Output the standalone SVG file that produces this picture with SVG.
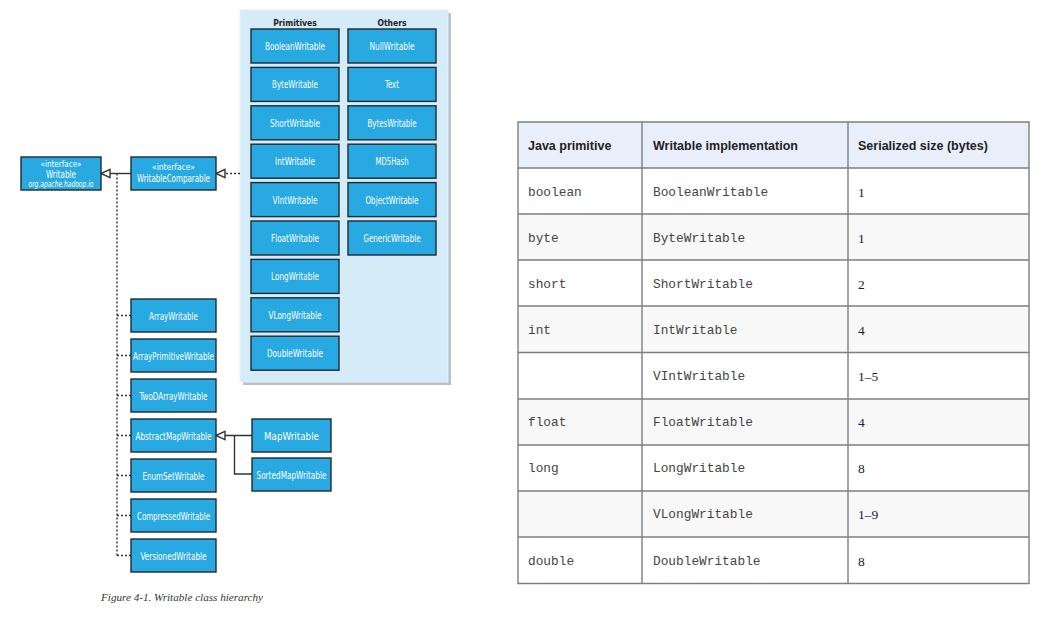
<svg xmlns="http://www.w3.org/2000/svg" width="1051" height="618" viewBox="0 0 1051 618">
<style>
.box{fill:#29a9e1;stroke:#1e2a33;stroke-width:1.4}
.bt{font-family:"DejaVu Sans Condensed","Liberation Sans Narrow","Liberation Sans",Arial,sans-serif;font-size:10.5px;fill:#fff;text-anchor:middle}
.sm{font-size:8px}
.it{font-style:italic;font-size:8px}
.hd{font-family:"DejaVu Sans Condensed","Liberation Sans",Arial,sans-serif;font-size:8.5px;font-weight:bold;fill:#222;text-anchor:middle}
.solid{fill:none;stroke:#333;stroke-width:1.4}
.dot{fill:none;stroke:#333;stroke-width:1.4;stroke-dasharray:2 2}
.th{font-family:"Liberation Sans",Arial,sans-serif;font-size:12.5px;font-weight:bold;fill:#222}
.td{font-family:"Liberation Mono","DejaVu Sans Mono",monospace;font-size:12.8px;fill:#444}
.tn{font-family:"Liberation Serif","DejaVu Serif",serif;font-size:13.5px;fill:#1a1a3a}
.grid{stroke:#7f7f7f;stroke-width:1.4;fill:none}
.cap{font-family:"Liberation Serif","DejaVu Serif",serif;font-style:italic;font-size:11px;fill:#333}
</style>
<defs>
<marker id="tri" markerUnits="userSpaceOnUse" markerWidth="12" markerHeight="12" refX="10" refY="5" orient="auto" viewBox="0 0 12 10">
<path d="M1,0.8 L10,5 L1,9.2 Z" fill="#fff" stroke="#333" stroke-width="1.4"/>
</marker>
</defs>
<rect width="1051" height="618" fill="#fff"/>

<g id="panel">
<rect x="243" y="13" width="208" height="372" fill="#b9bfc4"/>
<rect x="240" y="10" width="208" height="372" fill="#d5ebf8" stroke="#e4f2fb" stroke-width="1"/>
<text class="hd" x="295" y="26">Primitives</text>
<text class="hd" x="392" y="26">Others</text>
</g>

<g id="connectors">
<line class="solid" x1="131" y1="173.5" x2="101" y2="173.5" marker-end="url(#tri)"/>
<line class="dot" x1="240" y1="173.5" x2="216" y2="173.5" marker-end="url(#tri)"/>
<path class="dot" d="M117,173.5 V555.5"/>
<path class="dot" d="M117,315.5 H131 M117,355.5 H131 M117,395.5 H131 M117,435.5 H131 M117,475.5 H131 M117,515.5 H131 M117,555.5 H131"/>
<line class="solid" x1="252" y1="435.5" x2="216" y2="435.5" marker-end="url(#tri)"/>
<path class="solid" d="M234.5,435.5 V474 H252"/>
</g>

<g id="Writable">
<rect class="box" x="21" y="157" width="80" height="33"/>
<text class="bt sm" x="61" y="167" textLength="41" lengthAdjust="spacingAndGlyphs">«interface»</text>
<text class="bt" x="61" y="177.5" textLength="30" lengthAdjust="spacingAndGlyphs">Writable</text>
<text class="bt it" x="61" y="186.5" textLength="65" lengthAdjust="spacingAndGlyphs">org.apache.hadoop.io</text>
</g>
<g id="WritableComparable">
<rect class="box" x="131" y="157" width="85" height="33"/>
<text class="bt sm" x="173.5" y="170" textLength="43" lengthAdjust="spacingAndGlyphs">«interface»</text>
<text class="bt" x="173.5" y="181.5" textLength="73" lengthAdjust="spacingAndGlyphs">WritableComparable</text>
</g>

<g id="BooleanWritable"><rect class="box" x="251" y="29" width="88" height="34"/><text class="bt" x="295" y="50" textLength="60" lengthAdjust="spacingAndGlyphs">BooleanWritable</text></g>
<g id="ByteWritable"><rect class="box" x="251" y="67.4" width="88" height="34"/><text class="bt" x="295" y="88.4" textLength="46" lengthAdjust="spacingAndGlyphs">ByteWritable</text></g>
<g id="ShortWritable"><rect class="box" x="251" y="105.8" width="88" height="34"/><text class="bt" x="295" y="126.8" textLength="50" lengthAdjust="spacingAndGlyphs">ShortWritable</text></g>
<g id="IntWritable"><rect class="box" x="251" y="144.2" width="88" height="34"/><text class="bt" x="295" y="165.2" textLength="40" lengthAdjust="spacingAndGlyphs">IntWritable</text></g>
<g id="VIntWritable"><rect class="box" x="251" y="182.6" width="88" height="34"/><text class="bt" x="295" y="203.6" textLength="45" lengthAdjust="spacingAndGlyphs">VIntWritable</text></g>
<g id="FloatWritable"><rect class="box" x="251" y="221" width="88" height="34"/><text class="bt" x="295" y="242" textLength="48" lengthAdjust="spacingAndGlyphs">FloatWritable</text></g>
<g id="LongWritable"><rect class="box" x="251" y="259.4" width="88" height="34"/><text class="bt" x="295" y="280.4" textLength="48" lengthAdjust="spacingAndGlyphs">LongWritable</text></g>
<g id="VLongWritable"><rect class="box" x="251" y="297.8" width="88" height="34"/><text class="bt" x="295" y="318.8" textLength="53" lengthAdjust="spacingAndGlyphs">VLongWritable</text></g>
<g id="DoubleWritable"><rect class="box" x="251" y="336.2" width="88" height="34"/><text class="bt" x="295" y="357.2" textLength="56" lengthAdjust="spacingAndGlyphs">DoubleWritable</text></g>

<g id="NullWritable"><rect class="box" x="348" y="29" width="88" height="34"/><text class="bt" x="392" y="50" textLength="45" lengthAdjust="spacingAndGlyphs">NullWritable</text></g>
<g id="Text"><rect class="box" x="348" y="67.4" width="88" height="34"/><text class="bt" x="392" y="88.4" textLength="14" lengthAdjust="spacingAndGlyphs">Text</text></g>
<g id="BytesWritable"><rect class="box" x="348" y="105.8" width="88" height="34"/><text class="bt" x="392" y="126.8" textLength="49" lengthAdjust="spacingAndGlyphs">BytesWritable</text></g>
<g id="MD5Hash"><rect class="box" x="348" y="144.2" width="88" height="34"/><text class="bt" x="392" y="165.2" textLength="33" lengthAdjust="spacingAndGlyphs">MD5Hash</text></g>
<g id="ObjectWritable"><rect class="box" x="348" y="182.6" width="88" height="34"/><text class="bt" x="392" y="203.6" textLength="53" lengthAdjust="spacingAndGlyphs">ObjectWritable</text></g>
<g id="GenericWritable"><rect class="box" x="348" y="221" width="88" height="34"/><text class="bt" x="392" y="242" textLength="57" lengthAdjust="spacingAndGlyphs">GenericWritable</text></g>

<g id="ArrayWritable"><rect class="box" x="131" y="299" width="85" height="33"/><text class="bt" x="173.5" y="319.5" textLength="49" lengthAdjust="spacingAndGlyphs">ArrayWritable</text></g>
<g id="ArrayPrimitiveWritable"><rect class="box" x="131" y="339" width="85" height="33"/><text class="bt" x="173.5" y="359.5" textLength="81" lengthAdjust="spacingAndGlyphs">ArrayPrimitiveWritable</text></g>
<g id="TwoDArrayWritable"><rect class="box" x="131" y="379" width="85" height="33"/><text class="bt" x="173.5" y="399.5" textLength="68" lengthAdjust="spacingAndGlyphs">TwoDArrayWritable</text></g>
<g id="AbstractMapWritable"><rect class="box" x="131" y="419" width="85" height="33"/><text class="bt" x="173.5" y="439.5" textLength="76" lengthAdjust="spacingAndGlyphs">AbstractMapWritable</text></g>
<g id="EnumSetWritable"><rect class="box" x="131" y="459" width="85" height="33"/><text class="bt" x="173.5" y="479.5" textLength="62" lengthAdjust="spacingAndGlyphs">EnumSetWritable</text></g>
<g id="CompressedWritable"><rect class="box" x="131" y="499" width="85" height="33"/><text class="bt" x="173.5" y="519.5" textLength="73" lengthAdjust="spacingAndGlyphs">CompressedWritable</text></g>
<g id="VersionedWritable"><rect class="box" x="131" y="539" width="85" height="33"/><text class="bt" x="173.5" y="559.5" textLength="66" lengthAdjust="spacingAndGlyphs">VersionedWritable</text></g>

<g id="MapWritable"><rect class="box" x="252" y="419" width="79" height="33"/><text class="bt" x="291.5" y="439.5" textLength="55" lengthAdjust="spacingAndGlyphs">MapWritable</text></g>
<g id="SortedMapWritable"><rect class="box" x="252" y="458" width="79" height="33"/><text class="bt" x="291.5" y="478.5" textLength="70" lengthAdjust="spacingAndGlyphs">SortedMapWritable</text></g>

<text id="caption" class="cap" x="101" y="601" textLength="162" lengthAdjust="spacingAndGlyphs">Figure 4-1. Writable class hierarchy</text>

<g id="table">
<rect x="518" y="122" width="511" height="46" fill="#e9eefb"/>
<rect x="518" y="168" width="511" height="46" fill="#ffffff"/>
<rect x="518" y="214" width="511" height="46" fill="#f8f8f8"/>
<rect x="518" y="260" width="511" height="46" fill="#ffffff"/>
<rect x="518" y="306" width="511" height="46.5" fill="#f8f8f8"/>
<rect x="518" y="352.5" width="511" height="46.5" fill="#ffffff"/>
<rect x="518" y="399" width="511" height="46" fill="#f8f8f8"/>
<rect x="518" y="445" width="511" height="46" fill="#ffffff"/>
<rect x="518" y="491" width="511" height="46" fill="#f8f8f8"/>
<rect x="518" y="537" width="511" height="46.5" fill="#ffffff"/>
<path class="grid" d="M518,122 H1029 V583.5 H518 Z M642,122 V583.5 M848,122 V583.5 M518,168 H1029 M518,214 H1029 M518,260 H1029 M518,306 H1029 M518,352.5 H1029 M518,399 H1029 M518,445 H1029 M518,491 H1029 M518,537 H1029"/>
<text class="th" x="528" y="149.5">Java primitive</text>
<text class="th" x="653" y="149.5">Writable implementation</text>
<text class="th" x="858" y="149.5">Serialized size (bytes)</text>

<text class="td" x="528" y="195.5">boolean</text><text class="td" x="653" y="195.5">BooleanWritable</text><text class="tn" x="858" y="196.5">1</text>
<text class="td" x="528" y="241.5">byte</text><text class="td" x="653" y="241.5">ByteWritable</text><text class="tn" x="858" y="242.5">1</text>
<text class="td" x="528" y="287.5">short</text><text class="td" x="653" y="287.5">ShortWritable</text><text class="tn" x="858" y="288.5">2</text>
<text class="td" x="528" y="333.5">int</text><text class="td" x="653" y="333.5">IntWritable</text><text class="tn" x="858" y="334.5">4</text>
<text class="td" x="653" y="380">VIntWritable</text><text class="tn" x="858" y="381">1–5</text>
<text class="td" x="528" y="426">float</text><text class="td" x="653" y="426">FloatWritable</text><text class="tn" x="858" y="427">4</text>
<text class="td" x="528" y="472">long</text><text class="td" x="653" y="472">LongWritable</text><text class="tn" x="858" y="473">8</text>
<text class="td" x="653" y="518">VLongWritable</text><text class="tn" x="858" y="519">1–9</text>
<text class="td" x="528" y="564.5">double</text><text class="td" x="653" y="564.5">DoubleWritable</text><text class="tn" x="858" y="565.5">8</text>
</g>
</svg>
